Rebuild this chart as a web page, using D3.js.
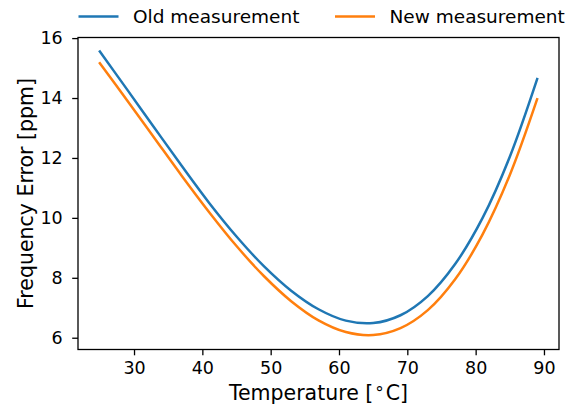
<!DOCTYPE html>
<html><head><meta charset="utf-8">
<script src="https://cdn.jsdelivr.net/npm/d3@7"></script>
<style>
html,body{margin:0;padding:0;background:#fff;}
text{font-family:"DejaVu Sans",sans-serif;fill:#000;}
</style></head>
<body><svg id="chart" width="578" height="409"></svg>
<script>
const temperature = [25, 29, 33, 37, 41, 45, 49, 53, 57, 61, 65, 69, 73, 77, 81, 85, 89];
const oldMeasurement = [15.55, 14.28, 13.00, 11.73, 10.50, 9.38, 8.39, 7.57, 6.95, 6.57, 6.49, 6.75, 7.39, 8.46, 9.99, 12.04, 14.63];
const newMeasurement = [15.16, 13.92, 12.66, 11.40, 10.19, 9.06, 8.06, 7.22, 6.58, 6.19, 6.09, 6.32, 6.92, 7.95, 9.44, 11.43, 13.96];
const seriesNames = ["Old measurement", "New measurement"];
const seriesColors = ["#1f77b4", "#ff7f0e"];
const xTicks = [30, 40, 50, 60, 70, 80, 90];
const yTicks = [6, 8, 10, 12, 14, 16];

const svg = d3.select("#chart");
const L = 78, R = 559, T = 37.5, B = 349.5;
const x = d3.scaleLinear().domain([21.8, 92.2]).range([L, R]);
const y = d3.scaleLinear().domain([5.607, 16.02]).range([B, T]);

const series = [oldMeasurement, newMeasurement];
const line = d3.line().x((d, i) => x(temperature[i])).y(d => y(d)).curve(d3.curveCatmullRom.alpha(0.5));

const g = svg.append("g");
series.forEach((s, k) => {
  g.append("path").datum(s).attr("d", line)
    .attr("fill", "none").attr("stroke", seriesColors[k]).attr("stroke-width", 2.5)
    .attr("stroke-linecap", "square");
});

// axes
const xAxis = svg.append("g").attr("transform", `translate(0,${B})`)
  .call(d3.axisBottom(x).tickValues(xTicks).tickSize(5.8).tickPadding(6.5).tickFormat(d3.format("d")));
const yAxis = svg.append("g").attr("transform", `translate(${L},0)`)
  .call(d3.axisLeft(y).tickValues(yTicks).tickSize(5.8).tickPadding(9.5).tickFormat(d3.format("d")));
[xAxis, yAxis].forEach(a => {
  a.select(".domain").remove();
  a.selectAll("line").attr("stroke", "#000").attr("stroke-width", 1.3);
  a.selectAll("text").attr("font-size", 17.5).attr("font-family", "DejaVu Sans");
});
svg.append("rect").attr("x", L).attr("y", T).attr("width", R - L).attr("height", B - T)
  .attr("fill", "none").attr("stroke", "#000").attr("stroke-width", 1.3);

// labels
const xl = svg.append("text").attr("x", (L + R) / 2).attr("y", 400).attr("text-anchor", "middle")
  .attr("font-size", 20.5);
xl.append("tspan").text("Temperature [");
xl.append("tspan").attr("dx", 2).attr("font-size", 17).attr("dy", -1).text("°");
xl.append("tspan").attr("dx", 2).attr("dy", 1).text("C]");
svg.append("text").attr("transform", `translate(33,${(T + B) / 2}) rotate(-90)`)
  .attr("text-anchor", "middle").attr("font-size", 20.5).text("Frequency Error [ppm]");

// legend
const legX = [78.5, 335];
seriesNames.forEach((n, k) => {
  svg.append("line").attr("x1", legX[k]).attr("x2", legX[k] + 40).attr("y1", 16.5).attr("y2", 16.5)
    .attr("stroke", seriesColors[k]).attr("stroke-width", 2.5);
  svg.append("text").attr("x", legX[k] + 54.5).attr("y", 23.3).attr("font-size", 18.5).text(n);
});
</script></body></html>
